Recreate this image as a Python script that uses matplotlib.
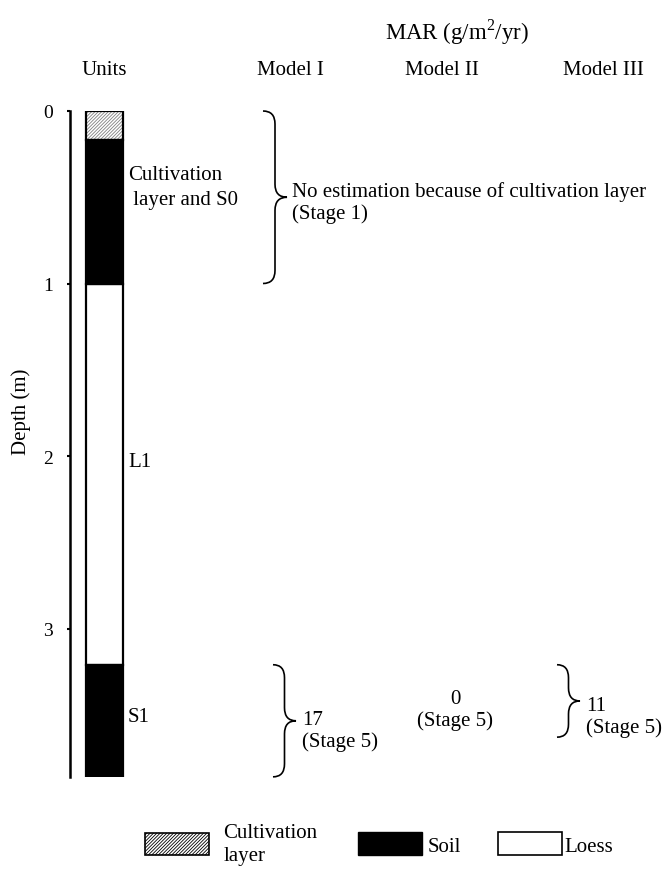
import matplotlib
matplotlib.use("Agg")
import matplotlib.pyplot as plt
from matplotlib.patches import Patch, PathPatch
from matplotlib.path import Path

plt.rcParams['font.family'] = ['Liberation Serif', 'DejaVu Serif']
plt.rcParams['mathtext.fontset'] = 'custom'
plt.rcParams['mathtext.rm'] = 'Liberation Serif'
plt.rcParams['hatch.linewidth'] = 0.6

# stratigraphic column (depth in m)
layer_top = [0.0, 0.17, 1.0, 3.21]
layer_bottom = [0.17, 1.0, 3.21, 3.86]
layer_kind = ['cultivation', 'soil', 'loess', 'soil']

unit_names = ['Cultivation\n layer and S0', 'L1', 'S1']
unit_depth = [0.44, 2.03, 3.51]

depth_ticks = [0, 1, 2, 3]

# MAR estimates per model for S1
models = ['Model I', 'Model II', 'Model III']
mar_values = ['17', '0', '11']
mar_stage = ['(Stage 5)', '(Stage 5)', '(Stage 5)']
brace_top = [3.21, None, 3.21]
brace_bottom = [3.86, None, 3.63]

# stage 1 note for cultivation layer and S0
note_text = 'No estimation because of cultivation layer\n(Stage 1)'
note_top, note_bottom = 0.0, 1.0

# layout (x in pixels of the 665 px wide figure)
W, H = 665, 870
col_x, col_w = 104.5, 37
header_x = [290, 442, 603]
value_x = [None, 455, None]
value_depth = [3.59, 3.47, 3.51]
brace_x = [273, None, 557]
PX_PER_M = 172.5
FS = 15


def draw_brace(ax, x0, y0, y1, w=23, r=13):
    """curly brace opening to the left, tip to the right"""
    ym = (y0 + y1) / 2
    rr = r / PX_PER_M
    xm = x0 + w / 2
    verts = [(x0, y0), (xm, y0), (xm, y0 + rr),
             (xm, ym - rr), (xm, ym), (x0 + w, ym),
             (xm, ym), (xm, ym + rr),
             (xm, y1 - rr), (xm, y1), (x0, y1)]
    codes = [Path.MOVETO, Path.CURVE3, Path.CURVE3,
             Path.LINETO, Path.CURVE3, Path.CURVE3,
             Path.CURVE3, Path.CURVE3,
             Path.LINETO, Path.CURVE3, Path.CURVE3]
    ax.add_patch(PathPatch(Path(verts, codes), fill=False, lw=1.2,
                           edgecolor='black', clip_on=False))
    return x0 + w, ym


fig = plt.figure(figsize=(W / 100, H / 100), dpi=100)
top_px, bot_px, left_px = 112, 112 + 3.86 * PX_PER_M, 70
ax = fig.add_axes([left_px / W, 1 - bot_px / H, (W - left_px) / W, (bot_px - top_px) / H])
ax.set_xlim(left_px, W)
ax.set_ylim(layer_bottom[-1], 0)

# column
styles = {'cultivation': dict(color='white', hatch='//////////', edgecolor='0.5', linewidth=0),
          'soil': dict(color='black', linewidth=0),
          'loess': dict(color='white', linewidth=0)}
for t, b, k in zip(layer_top, layer_bottom, layer_kind):
    ax.bar(col_x, b - t, bottom=t, width=col_w, **styles[k])
for t, b in zip(layer_top, layer_bottom):
    ax.bar(col_x, b - t, bottom=t, width=col_w, fill=False, edgecolor='black', linewidth=1.6)

for name, d in zip(unit_names, unit_depth):
    ax.text(col_x + col_w / 2 + 5, d, name, fontsize=FS, va='center', ha='left',
            linespacing=1.4)

# axis styling
for s in ['top', 'right', 'bottom']:
    ax.spines[s].set_visible(False)
ax.spines['left'].set_linewidth(1.8)
ax.set_xticks([])
ax.set_yticks(depth_ticks)
ax.tick_params(axis='y', length=2.5, width=1.5, labelsize=14, pad=10)
ax.set_ylabel('Depth (m)', fontsize=FS)
ax.yaxis.set_label_coords(-0.066, 0.55)

# headers
ax.text(457, -0.46, r'MAR (g/m$^{\mathrm{2}}$/yr)', fontsize=16.5, ha='center', va='center')
ax.text(col_x, -0.24, 'Units', fontsize=FS, ha='center', va='center')
for m, x in zip(models, header_x):
    ax.text(x, -0.24, m, fontsize=FS, ha='center', va='center')

# stage 1 note
tx, ty = draw_brace(ax, 263, note_top, note_bottom, w=24)
ax.text(tx + 5, ty + 0.03, note_text, fontsize=FS, ha='left', va='center', linespacing=1.15)

# S1 estimates
for v, st, bt, bb, bx, vx, vd in zip(mar_values, mar_stage, brace_top, brace_bottom,
                                     brace_x, value_x, value_depth):
    if bt is None:
        ax.text(vx, vd, v + '\n' + st, fontsize=FS, ha='center', va='center', linespacing=1.15)
    else:
        tx, ty = draw_brace(ax, bx, bt, bb)
        ax.text(tx + 6, vd, v + '\n' + st, fontsize=FS, ha='left', va='center',
                linespacing=1.15)

# legend, one entry each
cult = Patch(facecolor='white', edgecolor='black', hatch='//////////', linewidth=1.2,
             label='Cultivation\nlayer')
try:
    cult.set_hatchcolor('0.5')
except AttributeError:
    pass
entries = [(cult, 145, 0.7),
           (Patch(facecolor='black', edgecolor='black', label='Soil'), 358, 0.3),
           (Patch(facecolor='white', edgecolor='black', linewidth=1.2, label='Loess'), 498, 0.15)]
for h, lx, pad in entries:
    leg = fig.legend(handles=[h], loc='center left', bbox_to_anchor=(lx / W, 1 - 845 / H),
                     frameon=False, fontsize=FS, handlelength=3.05, handleheight=1.3,
                     handletextpad=pad, borderpad=0, borderaxespad=0, labelspacing=0)
    for t in leg.get_texts():
        t.set_linespacing(1.35)

fig.savefig('out.png', dpi=100)
